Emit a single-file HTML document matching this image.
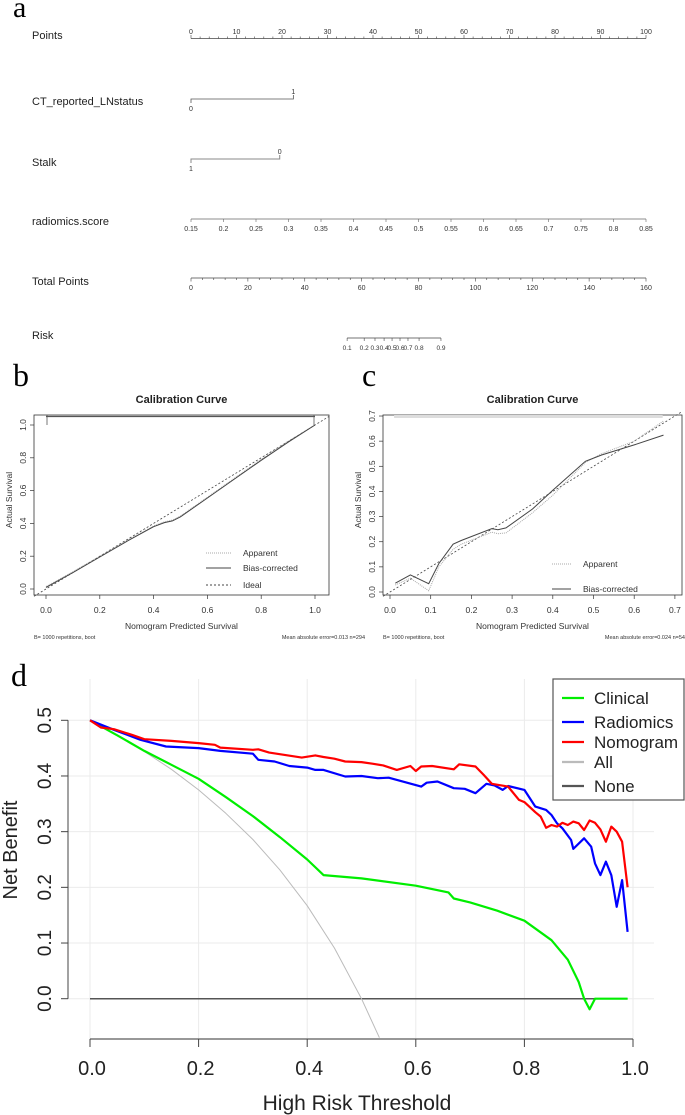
<!DOCTYPE html>
<html><head><meta charset="utf-8"><style>
html,body{margin:0;padding:0;background:#fff;}
svg{display:block;font-family:"Liberation Sans",Arial,sans-serif;}
</style></head><body>
<svg id="fig" width="685" height="1115" viewBox="0 0 685 1115" xmlns="http://www.w3.org/2000/svg">
<text x="13" y="17" font-family="Liberation Serif,serif" font-size="30">a</text>
<text x="13" y="386" font-family="Liberation Serif,serif" font-size="32">b</text>
<text x="362" y="386" font-family="Liberation Serif,serif" font-size="32">c</text>
<text x="11" y="686" font-family="Liberation Serif,serif" font-size="32">d</text>
<g id="nomo"></g>
<g id="calb"></g>
<g id="calc"></g>
<g id="dca"></g>
</svg>
<script>
// ---------- DATA ----------
const pointsTicks=[0,10,20,30,40,50,60,70,80,90,100];
const ctLevels=[0,1]; const ctPoints=[0,22.5];
const stalkLevels=[1,0]; const stalkPoints=[0,19.5];
const radTicks=["0.15","0.2","0.25","0.3","0.35","0.4","0.45","0.5","0.55","0.6","0.65","0.7","0.75","0.8","0.85"];
const totalTicks=[0,20,40,60,80,100,120,140,160];
const riskTicks=["0.1","0.2","0.3","0.4","0.5","0.6","0.7","0.8","0.9"];
const riskTotal=[54.9,60.9,64.7,67.9,70.7,73.5,76.3,80.2,87.9];

const bX=[0,0.1,0.2,0.3,0.4,0.44,0.47,0.5,0.6,0.7,0.8,0.9,1.0];
const bBias=[0.01,0.1,0.195,0.29,0.38,0.405,0.415,0.44,0.555,0.67,0.785,0.895,1.0];
const bApp=[0.015,0.105,0.2,0.295,0.385,0.41,0.42,0.445,0.56,0.675,0.79,0.9,1.0];
const bXTicks=[0,0.2,0.4,0.6,0.8,1.0];
const bYTicks=[0,0.2,0.4,0.6,0.8,1.0];

const cX=[0.013,0.05,0.095,0.12,0.155,0.175,0.25,0.265,0.285,0.35,0.4,0.48,0.52,0.6,0.672];
const cBias=[0.035,0.068,0.033,0.113,0.19,0.205,0.252,0.248,0.255,0.33,0.405,0.52,0.545,0.585,0.624];
const cApp=[0.028,0.055,0.005,0.1,0.17,0.19,0.238,0.232,0.235,0.315,0.385,0.515,0.55,0.6,0.68];
const cXTicks=[0,0.1,0.2,0.3,0.4,0.5,0.6,0.7];
const cYTicks=[0,0.1,0.2,0.3,0.4,0.5,0.6,0.7];

const clinT=[0,0.05,0.1,0.15,0.2,0.25,0.3,0.35,0.4,0.43,0.5,0.6,0.66,0.67,0.7,0.75,0.8,0.85,0.88,0.9,0.91,0.92,0.93,0.99];
const clinV=[0.5,0.473,0.445,0.42,0.395,0.362,0.328,0.29,0.25,0.222,0.216,0.203,0.191,0.18,0.173,0.158,0.14,0.105,0.07,0.03,0.0,-0.019,0,0];
const radT=[0,0.044,0.093,0.14,0.2,0.24,0.3,0.31,0.34,0.367,0.4,0.415,0.43,0.47,0.5,0.53,0.55,0.61,0.62,0.64,0.67,0.69,0.71,0.73,0.745,0.76,0.77,0.8,0.82,0.84,0.85,0.86,0.87,0.886,0.89,0.91,0.923,0.93,0.94,0.95,0.96,0.97,0.98,0.99];
const radV=[0.5,0.483,0.465,0.453,0.45,0.445,0.44,0.429,0.426,0.418,0.415,0.411,0.411,0.399,0.4,0.396,0.397,0.381,0.388,0.39,0.378,0.377,0.369,0.386,0.383,0.375,0.382,0.375,0.345,0.339,0.33,0.315,0.306,0.285,0.269,0.288,0.273,0.243,0.222,0.246,0.222,0.165,0.213,0.12];
const nomT=[0,0.02,0.044,0.077,0.1,0.15,0.2,0.23,0.24,0.3,0.31,0.33,0.39,0.415,0.43,0.45,0.47,0.5,0.52,0.54,0.565,0.59,0.6,0.61,0.63,0.67,0.68,0.71,0.725,0.74,0.77,0.79,0.8,0.82,0.83,0.84,0.85,0.86,0.87,0.88,0.89,0.9,0.91,0.92,0.93,0.94,0.95,0.96,0.97,0.98,0.99];
const nomV=[0.5,0.487,0.484,0.474,0.466,0.463,0.459,0.456,0.451,0.447,0.448,0.442,0.433,0.437,0.434,0.431,0.426,0.425,0.422,0.419,0.411,0.418,0.409,0.417,0.418,0.412,0.421,0.417,0.402,0.386,0.381,0.357,0.353,0.335,0.327,0.307,0.312,0.309,0.316,0.312,0.318,0.315,0.303,0.32,0.316,0.304,0.282,0.309,0.3,0.282,0.2];
const allT=[0,0.05,0.1,0.15,0.2,0.25,0.3,0.35,0.4,0.45,0.5,0.533];
const allV=[0.5,0.474,0.444,0.412,0.375,0.333,0.286,0.231,0.167,0.091,0,-0.07];
const noneT=[0,0.99]; const noneV=[0,0];
const dcaXTicks=[0,0.2,0.4,0.6,0.8,1.0];
const dcaYTicks=[0,0.1,0.2,0.3,0.4,0.5];
const legendNames=["Clinical","Radiomics","Nomogram","All","None"];
const legendColors=["#00ee00","#0000ff","#ff0000","#bbbbbb","#555555"];

// ---------- HELPERS ----------
const NS="http://www.w3.org/2000/svg";
function mk(parent,tag,attrs,text){const e=document.createElementNS(NS,tag);for(const k in attrs)e.setAttribute(k,attrs[k]);if(text!==undefined)e.textContent=text;parent.appendChild(e);return e;}
function poly(xs,ys,fx,fy){return xs.map((x,i)=>fx(x).toFixed(1)+","+fy(ys[i]).toFixed(1)).join(" ");}

// ---------- NOMOGRAM ----------
const nomo=document.getElementById('nomo');
const px=p=>191+p*4.55;
const tx=t=>191+t*455/160;
function rowLabel(t,y,name){const e=mk(nomo,'text',{x:32,y:y,'font-size':11,fill:'#222'},t);

}
rowLabel('Points',39,'points-label');rowLabel('CT_reported_LNstatus',105,'ct-label');rowLabel('Stalk',166,'stalk-label');
rowLabel('radiomics.score',225,'radiomics-label');rowLabel('Total Points',285,'total-points-label');rowLabel('Risk',339,'risk-label');
let l=mk(nomo,'line',{x1:px(0),x2:px(100),y1:38.5,y2:38.5,stroke:'#444','stroke-width':0.8});


for(let p=0;p<=100;p+=2){mk(nomo,'line',{x1:px(p),x2:px(p),y1:38.5,y2:p%10===0?35:36.5,stroke:'#444','stroke-width':0.6});}
pointsTicks.forEach(p=>{const e=mk(nomo,'text',{x:px(p),y:34,'font-size':7,'text-anchor':'middle',fill:'#333'},String(p));

});
mk(nomo,'polyline',{points:`${px(ctPoints[0])},103 ${px(ctPoints[0])},99 ${px(ctPoints[1])},99 ${px(ctPoints[1])},95`,fill:'none',stroke:'#555','stroke-width':0.8});
mk(nomo,'text',{x:px(ctPoints[0]),y:111,'font-size':7,'text-anchor':'middle',fill:'#333'},String(ctLevels[0]));
mk(nomo,'text',{x:px(ctPoints[1]),y:94,'font-size':7,'text-anchor':'middle',fill:'#333'},String(ctLevels[1]));
mk(nomo,'polyline',{points:`${px(stalkPoints[0])},163 ${px(stalkPoints[0])},159 ${px(stalkPoints[1])},159 ${px(stalkPoints[1])},155`,fill:'none',stroke:'#888','stroke-width':1});
mk(nomo,'text',{x:px(stalkPoints[0]),y:171,'font-size':7,'text-anchor':'middle',fill:'#333'},String(stalkLevels[0]));
mk(nomo,'text',{x:px(stalkPoints[1]),y:154,'font-size':7,'text-anchor':'middle',fill:'#333'},String(stalkLevels[1]));
mk(nomo,'line',{x1:px(0),x2:px(100),y1:219,y2:219,stroke:'#666','stroke-width':0.8});
radTicks.forEach((t,i)=>{const x=px(i*100/(radTicks.length-1));mk(nomo,'line',{x1:x,x2:x,y1:219,y2:222,stroke:'#666','stroke-width':0.6});
const e=mk(nomo,'text',{x:x,y:231,'font-size':7,'text-anchor':'middle',fill:'#333'},t);

});
mk(nomo,'line',{x1:tx(0),x2:tx(160),y1:278,y2:278,stroke:'#444','stroke-width':0.8});
for(let t=0;t<=160;t+=4){mk(nomo,'line',{x1:tx(t),x2:tx(t),y1:278,y2:t%20===0?281.5:280,stroke:'#444','stroke-width':0.6});}
totalTicks.forEach(t=>{const e=mk(nomo,'text',{x:tx(t),y:290,'font-size':7,'text-anchor':'middle',fill:'#333'},String(t));

});
mk(nomo,'line',{x1:tx(riskTotal[0]),x2:tx(riskTotal[riskTotal.length-1]),y1:338,y2:338,stroke:'#444','stroke-width':0.8});
riskTicks.forEach((t,i)=>{const x=tx(riskTotal[i]);mk(nomo,'line',{x1:x,x2:x,y1:338,y2:341,stroke:'#444','stroke-width':0.6});
const e=mk(nomo,'text',{x:x,y:350,'font-size':6.5,'text-anchor':'middle',fill:'#333'},t);

});

// ---------- CALIBRATION ----------
function calib(g,o){
  const fx=v=>o.x0+v*o.sx, fy=v=>o.y0-v*o.sy;
  const box=mk(g,'rect',{x:o.bx1,y:415,width:o.bx2-o.bx1,height:180,fill:'none',stroke:'#333','stroke-width':0.8});
  
  
  mk(g,'text',{x:(o.bx1+o.bx2)/2,y:403,'font-size':11,'font-weight':'bold','text-anchor':'middle',fill:'#222'},'Calibration Curve');
  mk(g,'line',{x1:fx(o.rug[0]),x2:fx(o.rug[1]),y1:416.5,y2:416.5,stroke:o.rugc,'stroke-width':o.rugw});
  const id=mk(g,'line',{x1:o.bx1,y1:o.y0+(o.x0-o.bx1)*o.sy/o.sx,x2:o.bx2,y2:o.y0-(o.bx2-o.x0)*o.sy/o.sx,stroke:'#444','stroke-width':0.8,'stroke-dasharray':'2,2'});
  
  
  const ap=mk(g,'polyline',{points:poly(o.xs,o.app,fx,fy),fill:'none',stroke:'#aaa','stroke-width':1,'stroke-dasharray':'1,1'});
  
  
  const bc=mk(g,'polyline',{points:poly(o.xs,o.bias,fx,fy),fill:'none',stroke:'#444','stroke-width':1});
  
  
  o.xt.forEach(v=>{mk(g,'line',{x1:fx(v),x2:fx(v),y1:595,y2:599,stroke:'#333','stroke-width':0.7});
    mk(g,'text',{x:fx(v),y:613,'font-size':8.5,'text-anchor':'middle',fill:'#333'},v.toFixed(1));});
  o.yt.forEach(v=>{mk(g,'line',{x1:o.bx1,x2:o.bx1-4,y1:fy(v),y2:fy(v),stroke:'#333','stroke-width':0.7});
    mk(g,'text',{x:0,y:0,'font-size':8.5,'text-anchor':'middle',fill:'#333',transform:`translate(${o.bx1-8},${fy(v)}) rotate(-90)`},v.toFixed(1));});
  mk(g,'text',{x:0,y:0,'font-size':8.5,'text-anchor':'middle',fill:'#333',transform:`translate(${o.bx1-22},500) rotate(-90)`},'Actual Survival');
  mk(g,'text',{x:(o.bx1+o.bx2)/2,y:629,'font-size':8.5,'text-anchor':'middle',fill:'#333'},'Nomogram Predicted Survival');
  mk(g,'text',{x:o.bx1,y:639,'font-size':5.5,fill:'#333'},'B= 1000 repetitions, boot');
  mk(g,'text',{x:o.fr,y:639,'font-size':5.5,'text-anchor':'end',fill:'#333'},o.foot);
  o.leg.forEach((L,i)=>{mk(g,'line',{x1:o.lx,x2:o.lx+o.lw,y1:L[1],y2:L[1],stroke:L[2],'stroke-width':1,'stroke-dasharray':L[3]});
    const e=mk(g,'text',{x:o.lx+o.lw+12,y:L[1]+3,'font-size':8.5,fill:'#333'},L[0]);
    
    });
}
calib(document.getElementById('calb'),{x0:46,sx:269,y0:589,sy:164,bx1:34,bx2:329,xs:bX,bias:bBias,app:bApp,xt:bXTicks,yt:bYTicks,
  rug:[0,1],rugc:'#555',rugw:1.2,foot:'Mean absolute error=0.013 n=294',fr:365,lx:206,lw:25,
  leg:[['Apparent',553,'#aaa','1,1'],['Bias-corrected',568,'#444','none'],['Ideal',585,'#444','2,2']]});
mk(document.getElementById('calb'),'line',{x1:47,x2:47,y1:415,y2:425,stroke:'#555','stroke-width':0.8});
mk(document.getElementById('calb'),'line',{x1:314,x2:314,y1:415,y2:425,stroke:'#555','stroke-width':0.8});
calib(document.getElementById('calc'),{x0:390,sx:407,y0:592,sy:251.4,bx1:383,bx2:682,xs:cX,bias:cBias,app:cApp,xt:cXTicks,yt:cYTicks,
  rug:[0.01,0.67],rugc:'#ddd',rugw:3,foot:'Mean absolute error=0.024 n=54',fr:685,lx:552,lw:19,
  leg:[['Apparent',564,'#aaa','1,1'],['Bias-corrected',589,'#444','none']]});

// ---------- DCA ----------
const d=document.getElementById('dca');
const dx=t=>90+t*543, dy=v=>998.7-v*556.8;
dcaXTicks.forEach(t=>{mk(d,'line',{x1:dx(t),x2:dx(t),y1:679,y2:1039,stroke:'#ebebeb','stroke-width':1});});
dcaYTicks.forEach(v=>{mk(d,'line',{x1:68,x2:654,y1:dy(v),y2:dy(v),stroke:'#ebebeb','stroke-width':1});});
mk(d,'line',{x1:68,x2:68,y1:dy(0.5),y2:dy(0),stroke:'#444','stroke-width':1});
dcaYTicks.forEach(v=>{mk(d,'line',{x1:61,x2:68,y1:dy(v),y2:dy(v),stroke:'#444','stroke-width':1});
  const e=mk(d,'text',{x:0,y:0,'font-size':19,'text-anchor':'middle',fill:'#222',transform:`translate(51,${dy(v)}) rotate(-90)`},v.toFixed(1));
  
  });
mk(d,'line',{x1:dx(0),x2:dx(1),y1:1039,y2:1039,stroke:'#777','stroke-width':1.5});
dcaXTicks.forEach(t=>{mk(d,'line',{x1:dx(t),x2:dx(t),y1:1039,y2:1047,stroke:'#444','stroke-width':1});
  const e=mk(d,'text',{x:dx(t)+2,y:1075,'font-size':20,'text-anchor':'middle',fill:'#222'},t.toFixed(1));
  
  });
let xt=mk(d,'text',{x:357,y:1110,'font-size':21,'text-anchor':'middle',fill:'#222'},'High Risk Threshold');


let yt=mk(d,'text',{x:0,y:0,'font-size':20,'text-anchor':'middle',fill:'#222',transform:'translate(17,850) rotate(-90)'},'Net Benefit');


const series=[[noneT,noneV,'#555555',1.5,'none-line'],[allT,allV,'#bbbbbb',1,'all-line'],[clinT,clinV,'#00ee00',2.2,'clinical-line'],[radT,radV,'#0000ff',2.2,'radiomics-line'],[nomT,nomV,'#ff0000',2.2,'nomogram-line']];
series.forEach(s=>{const p=mk(d,'polyline',{points:poly(s[0],s[1],dx,dy),fill:'none',stroke:s[2],'stroke-width':s[3],'stroke-linejoin':'round'});
  
  });
const lg=mk(d,'g',{});


mk(lg,'rect',{x:553,y:679,width:131,height:121,fill:'#fff',stroke:'#555','stroke-width':1.2});
const legY=[698,722,742,762,786];
legendNames.forEach((n,i)=>{mk(lg,'line',{x1:562,x2:584,y1:legY[i],y2:legY[i],stroke:legendColors[i],'stroke-width':2.2});
  const e=mk(lg,'text',{x:594,y:legY[i]+6,'font-size':17,fill:'#222'},n);
  
  });
</script>
</body></html>
